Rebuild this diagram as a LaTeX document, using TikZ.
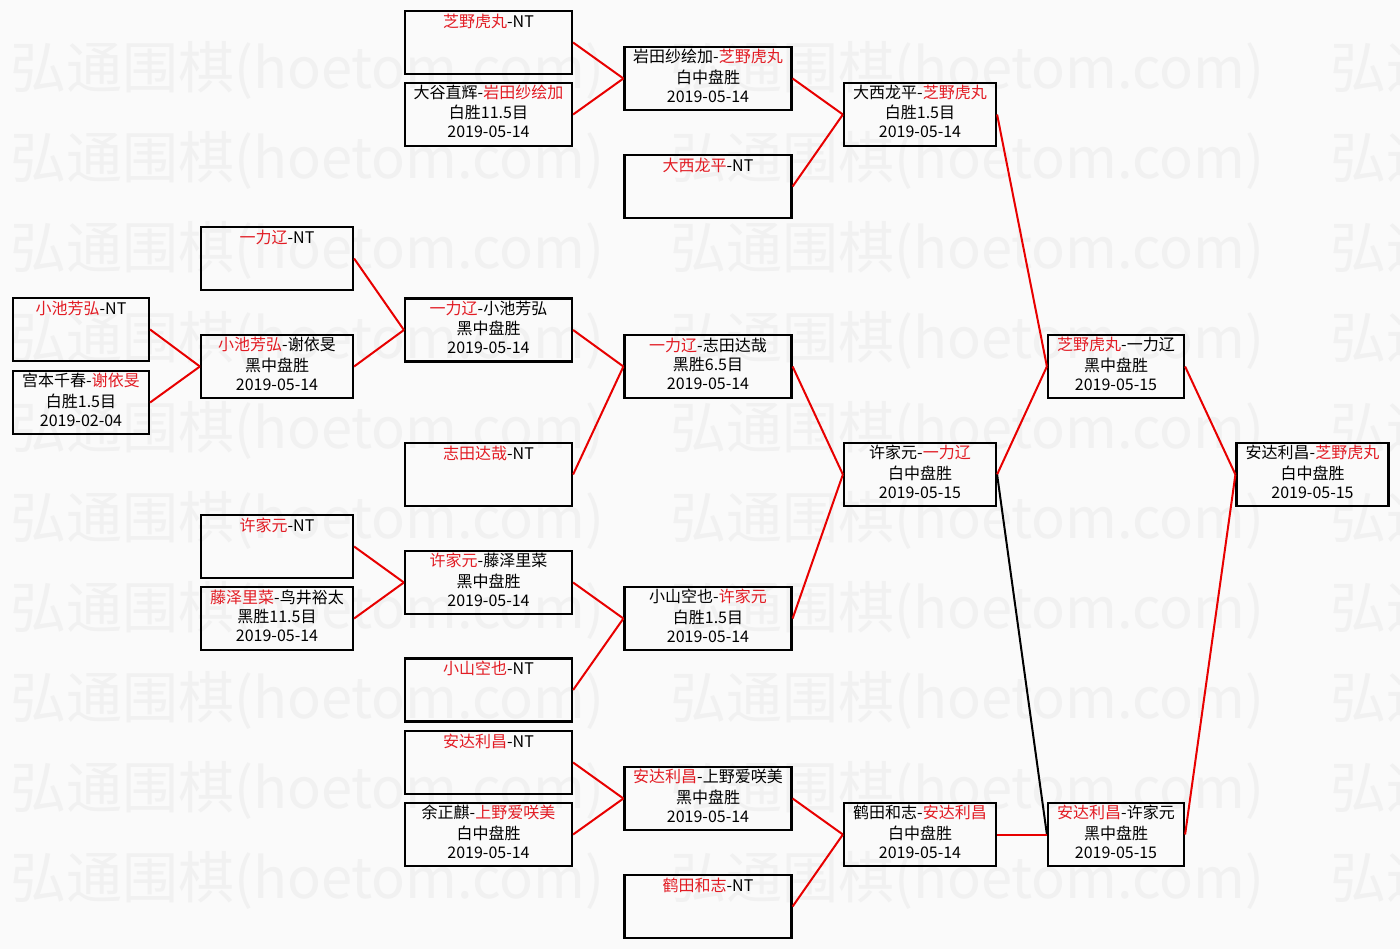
\documentclass[tikz,border=0pt]{standalone}
\usepackage{fontspec}
\setmainfont{Noto Sans CJK SC}

\definecolor{winred}{RGB}{226,28,36}
\definecolor{linkred}{RGB}{232,0,0}
\definecolor{paper}{RGB}{250,250,250}
\definecolor{wmgray}{RGB}{241,241,241}

\newcommand{\win}[1]{\textcolor{winred}{#1}}
\newcommand{\walkover}[1]{\strut\win{#1}-NT\\\strut\\\strut}
\newcommand{\match}[3]{\strut #1\\#2\\#3\strut}
\newcommand{\gamefont}{\fontsize{16}{19}\selectfont}

\tikzset{
  game/.style={draw=black,line width=2.2pt,inner sep=0pt,minimum height=63pt,align=center,font=\gamefont},
  narrow/.style={game,minimum width=136pt},
  mid/.style={game,minimum width=152pt},
  wide/.style={game,minimum width=167pt},
  link/.style={linkred,line width=2pt},
  lost/.style={black,line width=2pt},
  wmark/.style={anchor=west,text=wmgray,inner sep=0pt,font=\fontsize{56}{56}\selectfont}
}

\begin{document}
\begin{tikzpicture}[x=1pt,y=-1pt]
\useasboundingbox (0,0) rectangle (1400,949);
\fill[paper] (0,0) rectangle (1400,949);

%background watermark
\begin{scope}
\clip (0,0) rectangle (1400,949);
\foreach \r in {0,...,9}
  \foreach \c in {0,1,2}
    \node[wmark] (wm-\r-\c) at ({10+660*\c},{70+90*\r}) {弘通围棋(hoetom.com)};
\end{scope}

%---------------------------------------------------
%round 1
\node[narrow] (r1a) at (81,329.5) {\walkover{小池芳弘}};
\node[narrow] (r1b) at (81,402.5) {\match{宫本千春-\win{谢依旻}}{白胜1.5目}{2019-02-04}};

%round 2
\node[mid] (r2a) at (277,258.5) {\walkover{一力辽}};
\node[mid] (r2b) at (277,366.5) {\match{\win{小池芳弘}-谢依旻}{黑中盘胜}{2019-05-14}};
\node[mid] (r2c) at (277,546.5) {\walkover{许家元}};
\node[mid] (r2d) at (277,618.5) {\match{\win{藤泽里菜}-鸟井裕太}{黑胜11.5目}{2019-05-14}};

%round 3
\node[wide] (r3a) at (488.5,42.5) {\walkover{芝野虎丸}};
\node[wide] (r3b) at (488.5,114.5) {\match{大谷直辉-\win{岩田纱绘加}}{白胜11.5目}{2019-05-14}};
\node[wide] (r3c) at (488.5,330) {\match{\win{一力辽}-小池芳弘}{黑中盘胜}{2019-05-14}};
\node[wide] (r3d) at (488.5,474.5) {\walkover{志田达哉}};
\node[wide] (r3e) at (488.5,582.5) {\match{\win{许家元}-藤泽里菜}{黑中盘胜}{2019-05-14}};
\node[wide] (r3f) at (488.5,690) {\walkover{小山空也}};
\node[wide] (r3g) at (488.5,762.5) {\walkover{安达利昌}};
\node[wide] (r3h) at (488.5,834.5) {\match{余正麒-\win{上野爱咲美}}{白中盘胜}{2019-05-14}};

%round 4
\node[wide] (r4a) at (708,78.5) {\match{岩田纱绘加-\win{芝野虎丸}}{白中盘胜}{2019-05-14}};
\node[wide] (r4b) at (708,186.5) {\walkover{大西龙平}};
\node[wide] (r4c) at (708,366.5) {\match{\win{一力辽}-志田达哉}{黑胜6.5目}{2019-05-14}};
\node[wide] (r4d) at (708,618.5) {\match{小山空也-\win{许家元}}{白胜1.5目}{2019-05-14}};
\node[wide] (r4e) at (708,798.5) {\match{\win{安达利昌}-上野爱咲美}{黑中盘胜}{2019-05-14}};
\node[wide] (r4f) at (708,906.5) {\walkover{鹤田和志}};

%round 5
\node[mid] (r5a) at (920,114.5) {\match{大西龙平-\win{芝野虎丸}}{白胜1.5目}{2019-05-14}};
\node[mid] (r5b) at (920,474.5) {\match{许家元-\win{一力辽}}{白中盘胜}{2019-05-15}};
\node[mid] (r5c) at (920,834.5) {\match{鹤田和志-\win{安达利昌}}{白中盘胜}{2019-05-14}};

%round 6
\node[narrow] (r6a) at (1116,366.5) {\match{\win{芝野虎丸}-一力辽}{黑中盘胜}{2019-05-15}};
\node[narrow] (r6b) at (1116,834.5) {\match{\win{安达利昌}-许家元}{黑中盘胜}{2019-05-15}};

%final
\node[mid] (r7) at (1312.5,474.5) {\match{安达利昌-\win{芝野虎丸}}{白中盘胜}{2019-05-15}};

%---------------------------------------------------
%connectors
\draw[link] (r1a.east) -- (r2b.west);
\draw[link] (r1b.east) -- (r2b.west);

\draw[link] (r2a.east) -- (r3c.west);
\draw[link] (r2b.east) -- (r3c.west);
\draw[link] (r2c.east) -- (r3e.west);
\draw[link] (r2d.east) -- (r3e.west);

\draw[link] (r3a.east) -- (r4a.west);
\draw[link] (r3b.east) -- (r4a.west);
\draw[link] (r3c.east) -- (r4c.west);
\draw[link] (r3d.east) -- (r4c.west);
\draw[link] (r3e.east) -- (r4d.west);
\draw[link] (r3f.east) -- (r4d.west);
\draw[link] (r3g.east) -- (r4e.west);
\draw[link] (r3h.east) -- (r4e.west);

\draw[link] (r4a.east) -- (r5a.west);
\draw[link] (r4b.east) -- (r5a.west);
\draw[link] (r4c.east) -- (r5b.west);
\draw[link] (r4d.east) -- (r5b.west);
\draw[link] (r4e.east) -- (r5c.west);
\draw[link] (r4f.east) -- (r5c.west);

\draw[link] (r5a.east) -- (r6a.west);
\draw[link] (r5b.east) -- (r6a.west);
\draw[lost] (r5b.east) -- (r6b.west);
\draw[link] (r5c.east) -- (r6b.west);

\draw[link] (r6a.east) -- (r7.west);
\draw[link] (r6b.east) -- (r7.west);

\end{tikzpicture}
\end{document}
